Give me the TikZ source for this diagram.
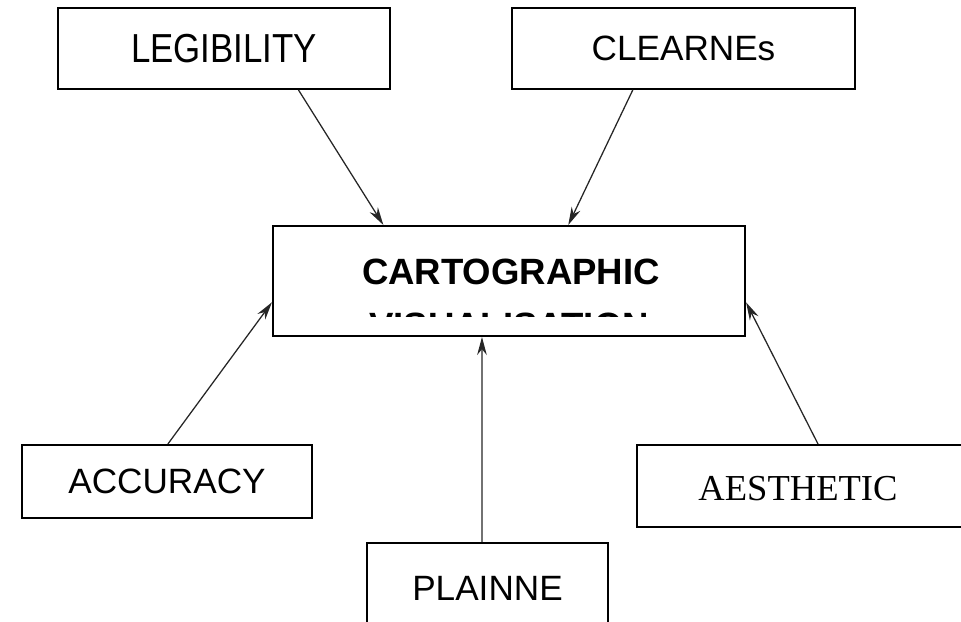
\documentclass[tikz,border=0pt]{standalone}
\usepackage{fontspec}
\setmainfont{Liberation Serif}
\newfontfamily\arialfont{Liberation Sans}
\usepackage{tikz}
\usetikzlibrary{arrows.meta, calc}
\tikzset{>={Stealth[length=4.5mm, width=2.4mm]}}
\tikzset{
    box/.style={draw, line width=1.4pt, inner sep=0pt},
    sanslbl/.style={font=\arialfont\fontsize{25}{30}\selectfont},
    boldlbl/.style={font=\arialfont\bfseries\fontsize{26}{30}\selectfont, inner sep=0pt},
    link/.style={->, line width=0.9pt, black!85}
}

\begin{document}
\begin{tikzpicture}[x=0.025cm, y=-0.025cm]
                \useasboundingbox (0,0) rectangle (961,622);

                \node[box, sanslbl, minimum width=83mm, minimum height=20.25mm] (legib) at (224, 48.5)
                    {\scalebox{0.86}[1]{\fontsize{28.8}{30}\selectfont LEGIBILITY}};
                \node[box, sanslbl, minimum width=85.75mm, minimum height=20.25mm] (clear) at (683.5, 48.5) {CLEARNEs};

                \node[box, minimum width=118mm, minimum height=27.5mm] (carto) at (509, 281) {};
                \node[boldlbl] (cartotext) at (511, 272) {CARTOGRAPHIC};
                % second line is cut off by the box
                \begin{scope}
                    \clip (273, 312) rectangle (745, 317);
                    \node[boldlbl, anchor=north] (vistext) at (509, 312.5) {VISUALISATION};
                \end{scope}

                \node[box, sanslbl, minimum width=72.5mm, minimum height=18.25mm] (accur) at (167, 481.5) {ACCURACY};
                \node[box, sanslbl, minimum width=60.25mm, minimum height=22.5mm] (plain) at (487.5, 588) {PLAINNE};
                % box runs off the right edge
                \node[box, anchor=west, minimum width=150mm, minimum height=20.5mm] (aesth) at (636, 486) {};
                \node[font=\fontsize{26}{30}\selectfont, inner sep=0pt] (aesthtext) at (798, 489) {AESTHETIC};

                \draw[link] ($(legib.south west)!0.723!(legib.south east)$) -- ($(carto.north west)!0.235!(carto.north east)$);
                \draw[link] ($(clear.south west)!0.353!(clear.south east)$) -- ($(carto.north west)!0.625!(carto.north east)$);
                \draw[link] ($(accur.north west)!0.503!(accur.north east)$) -- ($(carto.north west)!0.69!(carto.south west)$);
                \draw[link] ($(plain.north west)!0.477!(plain.north east)$) -- ($(carto.south west)!0.443!(carto.south east)$);
                \draw[link] ($(aesth.north west)+(182,0)$) -- ($(carto.north east)!0.69!(carto.south east)$);
            \end{tikzpicture}
\end{document}
